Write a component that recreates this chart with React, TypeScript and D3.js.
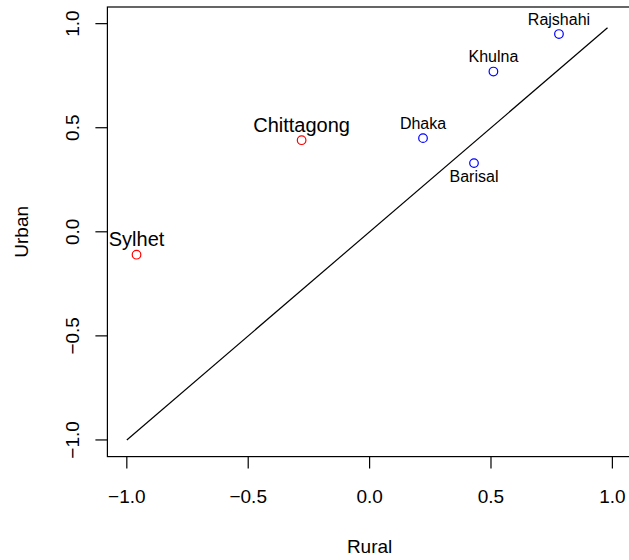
import * as d3 from "d3";

const W = 629;
const H = 560;

const regions = ["Rajshahi", "Khulna", "Dhaka", "Barisal", "Chittagong", "Sylhet"];
const rural = [0.78, 0.51, 0.22, 0.43, -0.28, -0.96];
const urban = [0.95, 0.77, 0.45, 0.33, 0.44, -0.11];
const groups = ["blue", "blue", "blue", "blue", "red", "red"];
// where the name sits relative to the point, like R's pos= (3 above, 1 below)
const labelPos = [3, 3, 3, 1, 3, 3];

const refLine = [-1, 0.98];
const ticks = [-1, -0.5, 0, 0.5, 1];

const FONT = "'Liberation Sans', Arial, Helvetica, sans-serif";

export default function App() {
  const x = d3.scaleLinear().domain([-1.08, 1.08]).range([107.4, 631.8]);
  const y = d3.scaleLinear().domain([-1.08, 1.08]).range([456.6, 7]);

  const line = d3
    .line<number>()
    .x((d) => x(d))
    .y((d) => y(d));

  const x0 = x(-1.08);
  const y0 = y(-1.08);
  const y1 = y(1.08);

  return (
    <svg
      width={W}
      height={H}
      style={{ position: "absolute", left: 0, top: 0, background: "white" }}
      fontFamily={FONT}
    >
      {/* plot box, right edge falls outside the window */}
      <rect
        x={x0}
        y={y1}
        width={x(1.08) - x0}
        height={y0 - y1}
        fill="none"
        stroke="black"
        strokeWidth={1.2}
      />

      {/* x axis */}
      {ticks.map((t) => (
        <g key={"x" + t}>
          <line x1={x(t)} x2={x(t)} y1={y0} y2={y0 + 12} stroke="black" strokeWidth={1.2} />
          <text x={x(t)} y={503} fontSize={19} textAnchor="middle">
            {d3.format(".1f")(t).replace("-", "\u2212")}
          </text>
        </g>
      ))}
      <text x={x(0)} y={553} fontSize={19} textAnchor="middle">
        Rural
      </text>

      {/* y axis */}
      {ticks.map((t) => (
        <g key={"y" + t}>
          <line x1={x0 - 12} x2={x0} y1={y(t)} y2={y(t)} stroke="black" strokeWidth={1.2} />
          <text
            transform={`translate(79,${y(t)}) rotate(-90)`}
            fontSize={19}
            textAnchor="middle"
          >
            {d3.format(".1f")(t).replace("-", "\u2212")}
          </text>
        </g>
      ))}
      <text transform={`translate(28,${y(0)}) rotate(-90)`} fontSize={19} textAnchor="middle">
        Urban
      </text>

      {/* 45 degree reference line */}
      <path d={line(refLine) ?? ""} fill="none" stroke="black" strokeWidth={1.2} />

      {/* regions */}
      {regions.map((name, i) => {
        const px = x(rural[i]);
        const py = y(urban[i]);
        const big = groups[i] === "red";
        const col = big ? "#ff0000" : "#0000ff";
        const ty = labelPos[i] === 1 ? py + 18.5 : py - (big ? 8.5 : 9.5);
        return (
          <g key={name}>
            <circle cx={px} cy={py} r={4.3} fill="none" stroke={col} strokeWidth={1.2} />
            <text x={px} y={ty} fontSize={big ? 20 : 16} textAnchor="middle">
              {name}
            </text>
          </g>
        );
      })}
    </svg>
  );
}
